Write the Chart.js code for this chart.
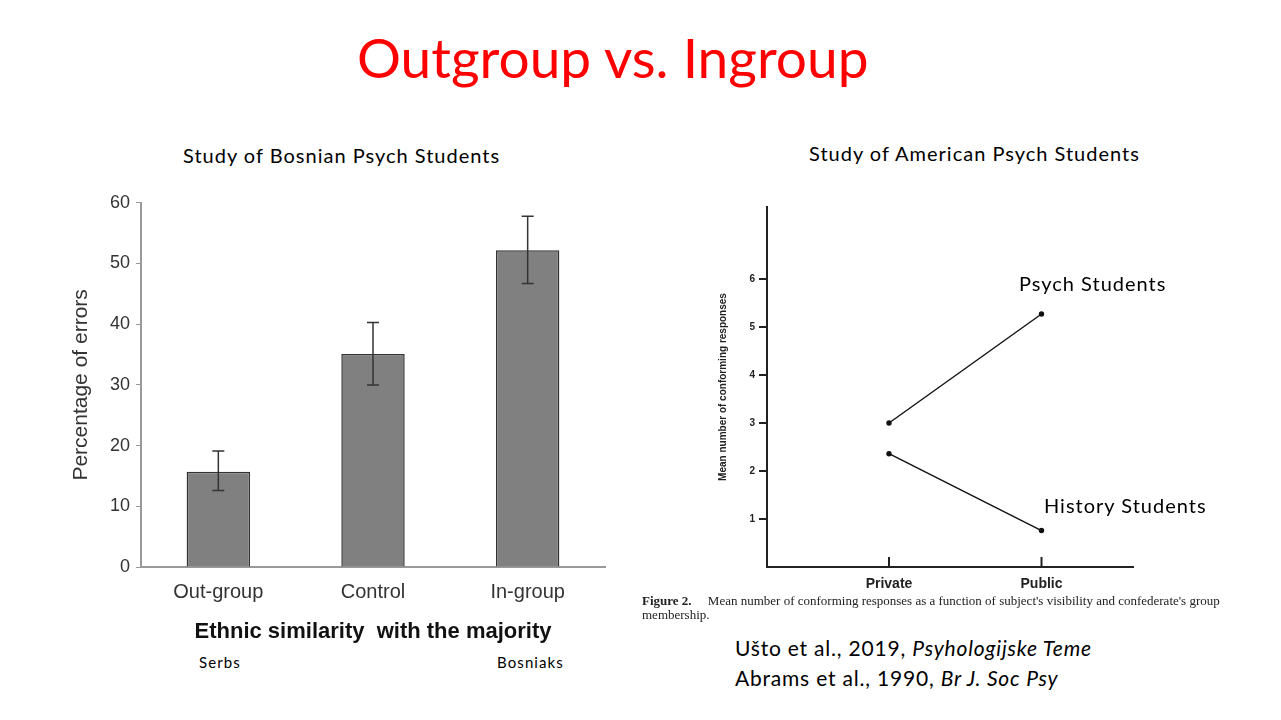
<!DOCTYPE html>
<html lang="en">
<head>
    <meta charset="UTF-8">
    <title>Outgroup vs. Ingroup</title>
    <script src="https://cdn.jsdelivr.net/npm/chart.js"></script>
    <style>
        body {
            margin: 0;
            width: 1281px;
            height: 720px;
            background: white;
            position: relative;
            overflow: hidden;
            font-family: Lato, "Open Sans", sans-serif;
        }
        .txt {
            position: absolute;
            white-space: nowrap;
            color: black;
            line-height: 1;
        }
        #title {
            left: 357px;
            top: 30px;
            font-size: 55px;
            color: #ff0000;
        }
        #leftBox {
            position: absolute;
            left: 60px;
            top: 186px;
            width: 560px;
            height: 464px;
        }
        #rightBox {
            position: absolute;
            left: 690px;
            top: 195px;
            width: 460px;
            height: 400px;
        }
        .caption {
            font-family: "Liberation Serif", serif;
            font-size: 13px;
            color: #222;
        }
    </style>
</head>
<body>
    <div class="txt" id="title">Outgroup vs. Ingroup</div>
    <div class="txt" style="left:183px; top:145px; font-size:20px; letter-spacing:1px;">Study of Bosnian Psych Students</div>
    <div class="txt" style="left:809px; top:143px; font-size:20px; letter-spacing:1px;">Study of American Psych Students</div>

    <div id="leftBox"><canvas id="bars"></canvas></div>
    <div id="rightBox"><canvas id="lines"></canvas></div>

    <div class="txt" style="left:199px; top:655px; font-size:15px; letter-spacing:1.1px;">Serbs</div>
    <div class="txt" style="left:497px; top:655px; font-size:15px; letter-spacing:1.1px;">Bosniaks</div>

    <div class="txt" style="left:1019px; top:273px; font-size:20px; letter-spacing:1px;">Psych Students</div>
    <div class="txt" style="left:1044px; top:495px; font-size:20px; letter-spacing:1px;">History Students</div>

    <div class="txt caption" style="left:642px; top:594px;"><b>Figure 2.</b>&nbsp;&nbsp;&nbsp;&nbsp; Mean number of conforming responses as a function of subject's visibility and confederate's group</div>
    <div class="txt caption" style="left:642px; top:608px;">membership.</div>

    <div class="txt" style="left:735px; top:637px; font-size:21px; letter-spacing:0.8px;">Ušto et al., 2019, <i>Psyhologijske Teme</i></div>
    <div class="txt" style="left:735px; top:667px; font-size:21px; letter-spacing:0.8px;">Abrams et al., 1990, <i>Br J. Soc Psy</i></div>

    <script>
        // Ліва діаграма: відсоток помилок
        var groupLabels = ['Out-group', 'Control', 'In-group'];
        var errorPct = [15.7, 35.1, 52.2];
        var errorLow = [12.6, 30.0, 46.7];
        var errorHigh = [19.1, 40.3, 57.8];
        var pctTicks = [0, 10, 20, 30, 40, 50, 60];

        // Права діаграма: середня кількість конформних відповідей
        var visibility = ['Private', 'Public'];
        var psychMeans = [3.0, 5.27];
        var historyMeans = [2.36, 0.76];
        var meanTicks = [1, 2, 3, 4, 5, 6];

        // Планки похибок
        var errorBars = {
            id: 'errorBars',
            afterDatasetsDraw: function(chart) {
                var ctx = chart.ctx;
                var y = chart.scales.y;
                var meta = chart.getDatasetMeta(0);
                ctx.save();
                ctx.strokeStyle = '#333';
                ctx.lineWidth = 1.5;
                meta.data.forEach(function(bar, i) {
                    var yHi = y.getPixelForValue(errorHigh[i]);
                    var yLo = y.getPixelForValue(errorLow[i]);
                    ctx.beginPath();
                    ctx.moveTo(bar.x, yHi);
                    ctx.lineTo(bar.x, yLo);
                    ctx.moveTo(bar.x - 6, yHi);
                    ctx.lineTo(bar.x + 6, yHi);
                    ctx.moveTo(bar.x - 6, yLo);
                    ctx.lineTo(bar.x + 6, yLo);
                    ctx.stroke();
                });
                ctx.restore();
            }
        };

        new Chart(document.getElementById('bars'), {
            type: 'bar',
            data: {
                labels: groupLabels,
                datasets: [{
                    data: errorPct,
                    backgroundColor: '#808080',
                    borderColor: '#333',
                    borderWidth: 1.5,
                    barPercentage: 0.41,
                    categoryPercentage: 1
                }]
            },
            options: {
                responsive: true,
                maintainAspectRatio: false,
                animation: false,
                layout: { padding: { top: 11, right: 15, left: 0, bottom: 0 } },
                plugins: { legend: { display: false }, tooltip: { enabled: false } },
                scales: {
                    x: {
                        afterFit: function(s) { s.height = 83; },
                        grid: { display: false },
                        border: { color: '#999', width: 2 },
                        ticks: {
                            color: '#333',
                            padding: 5,
                            font: { family: 'Liberation Sans', size: 20 }
                        },
                        title: {
                            display: true,
                            text: 'Ethnic similarity  with the majority',
                            color: '#111',
                            padding: { top: 0, bottom: 5 },
                            font: { family: 'Liberation Sans', size: 22, weight: 'bold' }
                        }
                    },
                    y: {
                        min: 0,
                        max: 60,
                        afterFit: function(s) { s.width = 81; },
                        afterBuildTicks: function(s) {
                            s.ticks = pctTicks.map(function(v) { return { value: v }; });
                        },
                        grid: { drawOnChartArea: false, tickLength: 5, color: '#999' },
                        border: { color: '#999', width: 2 },
                        ticks: {
                            color: '#333',
                            padding: 6,
                            font: { family: 'Liberation Sans', size: 18 }
                        },
                        title: {
                            display: true,
                            text: 'Percentage of errors',
                            color: '#333',
                            padding: { top: 9, bottom: 0 },
                            font: { family: 'Liberation Sans', size: 21 }
                        }
                    }
                }
            },
            plugins: [errorBars]
        });

        // Риски на осі x, спрямовані вгору
        var upTicks = {
            id: 'upTicks',
            afterDraw: function(chart) {
                var ctx = chart.ctx;
                var x = chart.scales.x;
                var y0 = chart.chartArea.bottom;
                ctx.save();
                ctx.strokeStyle = '#222';
                ctx.lineWidth = 2;
                visibility.forEach(function(v, i) {
                    var px = x.getPixelForValue(i + 1);
                    ctx.beginPath();
                    ctx.moveTo(px, y0);
                    ctx.lineTo(px, y0 - 10);
                    ctx.stroke();
                });
                ctx.restore();
            }
        };

        function toPoints(arr) {
            return arr.map(function(v, i) { return { x: i + 1, y: v }; });
        }

        new Chart(document.getElementById('lines'), {
            type: 'line',
            data: {
                datasets: [{
                    label: 'Psych Students',
                    data: toPoints(psychMeans),
                    borderColor: '#111',
                    backgroundColor: '#111',
                    borderWidth: 1.4,
                    pointRadius: 2,
                    tension: 0
                }, {
                    label: 'History Students',
                    data: toPoints(historyMeans),
                    borderColor: '#111',
                    backgroundColor: '#111',
                    borderWidth: 1.4,
                    pointRadius: 2,
                    tension: 0
                }]
            },
            options: {
                responsive: true,
                maintainAspectRatio: false,
                animation: false,
                layout: { padding: { top: 12, right: 17, left: 0, bottom: 0 } },
                plugins: { legend: { display: false }, tooltip: { enabled: false } },
                scales: {
                    x: {
                        type: 'linear',
                        min: 0.2,
                        max: 2.6,
                        afterFit: function(s) { s.height = 28; },
                        afterBuildTicks: function(s) {
                            s.ticks = visibility.map(function(v, i) { return { value: i + 1 }; });
                        },
                        grid: { display: false },
                        border: { color: '#222', width: 2 },
                        ticks: {
                            color: '#222',
                            padding: 1,
                            font: { family: 'Liberation Sans', size: 14, weight: 'bold' },
                            callback: function(v) { return visibility[v - 1]; }
                        }
                    },
                    y: {
                        min: 0,
                        max: 7.5,
                        afterFit: function(s) { s.width = 77; },
                        afterBuildTicks: function(s) {
                            s.ticks = meanTicks.map(function(v) { return { value: v }; });
                        },
                        grid: { drawOnChartArea: false, tickLength: 8, color: '#222', lineWidth: 2 },
                        border: { color: '#222', width: 2 },
                        ticks: {
                            color: '#222',
                            padding: 4,
                            font: { family: 'Liberation Sans', size: 10, weight: 'bold' }
                        },
                        title: {
                            display: true,
                            text: 'Mean number of conforming responses',
                            color: '#222',
                            padding: { top: 27, bottom: 0 },
                            font: { family: 'Liberation Sans', size: 10, weight: 'bold' }
                        }
                    }
                }
            },
            plugins: [upTicks]
        });
    </script>
</body>
</html>
